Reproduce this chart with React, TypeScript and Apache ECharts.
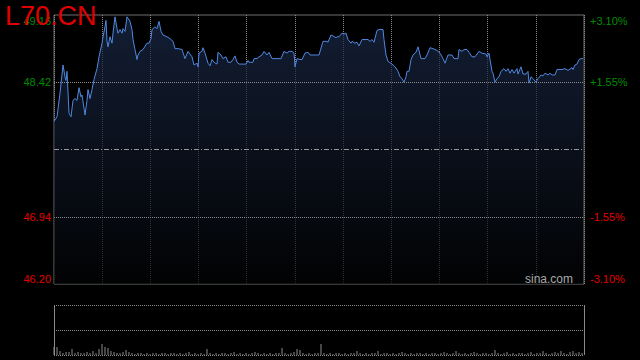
import React, { useEffect, useRef } from "react";
import * as echarts from "echarts";

const TITLE = "L70.CN";
const SOURCE = "sina.com";
const PREV_CLOSE = 47.68;
const PRICE_MIN = 46.2;
const PRICE_MAX = 49.16;
const PRICE_STEP = 0.74;
const PCT_MIN = -3.1;
const PCT_MAX = 3.1;
const PCT_STEP = 1.55;
const SESSION_LEN = 530;
const SESSION_DIVISIONS = 11;
const VOLUME_STEP = 3;
const VOLUME_MAX = 500;

// time offsets within the session
const times = [
  0, 3, 6, 9, 11, 12, 13, 15, 17, 19,
  21, 23, 25, 27, 28, 31, 33, 34, 36, 38,
  40, 43, 45, 48, 49, 51, 52, 53, 54, 56,
  58, 59, 61, 63, 64, 66, 68, 69, 71, 73,
  76, 78, 79, 81, 83, 84, 86, 89, 93, 95,
  97, 98, 101, 103, 105, 107, 109, 113, 116, 119,
  121, 124, 128, 131, 134, 138, 140, 143, 144, 145,
  148, 149, 151, 154, 156, 158, 160, 163, 164, 167,
  169, 172, 174, 177, 179, 181, 183, 185, 189, 192,
  194, 195, 199, 200, 203, 205, 208, 210, 213, 215,
  218, 223, 227, 230, 233, 235, 238, 240, 241, 243,
  246, 248, 251, 254, 256, 261, 265, 269, 273, 274,
  277, 279, 282, 283, 285, 288, 290, 292, 294, 297,
  298, 301, 303, 305, 308, 311, 314, 316, 318, 320,
  323, 325, 329, 330, 332, 334, 338, 341, 344, 346,
  348, 350, 352, 353, 355, 357, 359, 362, 364, 367,
  371, 373, 376, 379, 383, 386, 389, 391, 394, 398,
  400, 404, 405, 408, 410, 413, 415, 418, 421, 425,
  428, 432, 433, 435, 436, 438, 439, 441, 443, 445,
  447, 450, 452, 454, 456, 458, 460, 463, 464, 467,
  469, 472, 474, 475, 477, 479, 482, 484, 487, 489,
  491, 494, 496, 498, 501, 503, 508, 511, 514, 518,
  519, 521, 523, 525, 527, 529,
];

const prices = [
  47.99, 48.04, 48.3, 48.61, 48.48, 48.44, 48.54, 48.08, 48.04, 48.22,
  48.24, 48.22, 48.36, 48.26, 48.28, 48.06, 48.22, 48.34, 48.24, 48.34,
  48.45, 48.57, 48.7, 48.85, 48.92, 49.03, 49.1, 48.87, 48.81, 48.92,
  48.85, 48.96, 49.14, 49.01, 48.96, 49.0, 48.96, 49.01, 48.98, 49.14,
  49.09, 49.0, 48.89, 48.78, 48.67, 48.72, 48.76, 48.78, 48.85, 48.85,
  48.9, 49.0, 49.03, 49.01, 49.09, 48.98, 48.94, 48.92, 48.9, 48.87,
  48.79, 48.79, 48.78, 48.68, 48.76, 48.7, 48.61, 48.63, 48.59, 48.74,
  48.76, 48.8, 48.74, 48.63, 48.6, 48.67, 48.64, 48.62, 48.75, 48.72,
  48.68, 48.7, 48.64, 48.64, 48.67, 48.71, 48.64, 48.62, 48.62, 48.62,
  48.66, 48.64, 48.64, 48.68, 48.68, 48.7, 48.72, 48.76, 48.72, 48.75,
  48.68, 48.68, 48.68, 48.76, 48.74, 48.76, 48.76, 48.74, 48.59, 48.68,
  48.67, 48.67, 48.74, 48.75, 48.72, 48.72, 48.72, 48.87, 48.87, 48.86,
  48.94, 48.93, 48.91, 48.92, 48.92, 48.96, 48.95, 48.96, 48.89, 48.85,
  48.87, 48.85, 48.86, 48.82, 48.89, 48.89, 48.89, 48.87, 48.89, 48.86,
  48.99, 49.0, 49.0, 48.89, 48.72, 48.65, 48.62, 48.59, 48.54, 48.48,
  48.46, 48.42, 48.48, 48.54, 48.54, 48.67, 48.72, 48.75, 48.81, 48.68,
  48.68, 48.72, 48.8, 48.79, 48.77, 48.74, 48.68, 48.63, 48.72, 48.72,
  48.68, 48.68, 48.78, 48.76, 48.78, 48.78, 48.75, 48.7, 48.7, 48.76,
  48.74, 48.73, 48.7, 48.74, 48.67, 48.54, 48.52, 48.42, 48.46, 48.48,
  48.54, 48.57, 48.54, 48.57, 48.52, 48.56, 48.52, 48.57, 48.51, 48.59,
  48.51, 48.51, 48.54, 48.41, 48.48, 48.46, 48.42, 48.46, 48.5, 48.49,
  48.52, 48.5, 48.52, 48.5, 48.5, 48.56, 48.56, 48.57, 48.55, 48.58,
  48.56, 48.61, 48.62, 48.67, 48.68, 48.68,
];

const volumes = [
  80, 80, 40, 20, 30, 30, 60, 20, 30, 20,
  20, 30, 20, 40, 20, 60, 110, 80, 70, 40,
  30, 20, 20, 30, 50, 30, 20, 10, 20,
  20, 10, 20, 10, 20, 20, 10, 20, 20, 10, 20, 20, 10, 20, 10, 20, 30, 10, 20, 10, 20, 10,
  60,
  20, 10, 20, 10, 20, 20, 10, 20, 30, 10, 20, 10, 20, 10, 20, 30, 20, 10, 20, 10, 20, 10, 20, 20,
  70,
  20, 10, 20, 30,
  60, 50,
  20, 10, 20, 10, 20, 20,
  110,
  20, 10, 20, 10, 20, 20, 10, 20, 10, 20,
  20, 40, 20, 10, 20, 10, 20, 20, 40, 10,
  20, 20, 10, 20, 10, 20, 30, 20, 10, 20,
  10, 20, 20, 10, 20, 10, 20, 20, 10, 20,
  30, 20, 10, 20, 40, 20, 10, 20, 10, 20,
  30, 20, 10, 20, 20, 10, 20,
  50,
  20, 10, 20, 30, 10, 20, 10, 20, 20, 10,
  20, 30, 10, 20, 20, 40, 20, 10, 20, 30,
  20, 40, 20, 10, 30, 40, 20, 30, 20,
];

const GREEN = "#008c00";
const RED = "#e00000";
const FONT = '"Liberation Sans", Arial, Helvetica, sans-serif';
const GRID_LINE = "#8a8a8a";

const near = (a: number, b: number) => Math.abs(a - b) < 1e-6;

const richStyles = {
  gt: { color: GREEN, fontSize: 11, fontFamily: FONT, padding: [11, 0, 0, 0] },
  g: { color: GREEN, fontSize: 11, fontFamily: FONT },
  r: { color: RED, fontSize: 11, fontFamily: FONT },
  rb: { color: RED, fontSize: 11, fontFamily: FONT, padding: [0, 0, 11, 0] },
};

function priceLabel(raw: any) {
  const v = Number(raw);
  if (near(v, PREV_CLOSE)) return "";
  const key = v > PREV_CLOSE ? (near(v, PRICE_MAX) ? "gt" : "g") : near(v, PRICE_MIN) ? "rb" : "r";
  return `{${key}|${v.toFixed(2)}}`;
}

function pctLabel(raw: any) {
  const v = Number(raw);
  if (near(v, 0)) return "";
  const key = v > 0 ? (near(v, PCT_MAX) ? "gt" : "g") : near(v, PCT_MIN) ? "rb" : "r";
  const s = (v > 0 ? "+" : "") + v.toFixed(2) + "%";
  return `{${key}|${s}}`;
}

export default function App() {
  const ref = useRef<HTMLDivElement>(null);

  useEffect(() => {
    if (!ref.current) return;
    const chart = echarts.init(ref.current, null, { renderer: "svg" });
    const priceData = times.map((t, i) => [t, prices[i]]);
    const volData = volumes.map((v, i) => [i * VOLUME_STEP, v]);

    const hiddenAxisParts = {
      axisLine: { show: false },
      axisTick: { show: false },
      axisLabel: { show: false },
    };

    chart.setOption({
      animation: false,
      backgroundColor: "#000",
      textStyle: { fontFamily: FONT },
      grid: [
        {
          left: 54,
          top: 15,
          width: 530,
          height: 269,
          show: true,
          borderColor: "#6e6e6e",
          borderWidth: 1,
          backgroundColor: "transparent",
        },
        { left: 54, top: 305, width: 530, height: 50 },
      ],
      xAxis: [
        { gridIndex: 0, type: "value", min: 0, max: SESSION_LEN, show: false },
        {
          gridIndex: 0,
          type: "value",
          min: 0,
          max: SESSION_DIVISIONS,
          interval: 1,
          ...hiddenAxisParts,
          splitLine: { show: true, lineStyle: { color: GRID_LINE, width: 1, type: [1, 1] } },
        },
        { gridIndex: 1, type: "value", min: 0, max: SESSION_LEN, show: false },
        {
          gridIndex: 1,
          type: "value",
          min: 0,
          max: 1,
          interval: 1,
          ...hiddenAxisParts,
          splitLine: { show: true, lineStyle: { color: "#8a8a8a", width: 1, type: "solid" } },
        },
      ],
      yAxis: [
        {
          gridIndex: 0,
          type: "value",
          position: "left",
          min: PRICE_MIN,
          max: PRICE_MAX,
          interval: PRICE_STEP,
          axisLine: { show: false },
          axisTick: { show: false },
          splitLine: { show: false },
          axisLabel: {
            show: true,
            margin: 3,
            fontSize: 11,
            fontFamily: FONT,
            formatter: priceLabel,
            rich: richStyles,
          },
        },
        {
          gridIndex: 0,
          type: "value",
          position: "right",
          min: PCT_MIN,
          max: PCT_MAX,
          interval: PCT_STEP,
          axisLine: { show: false },
          axisTick: { show: false },
          splitLine: { show: false },
          axisLabel: {
            show: true,
            margin: 6,
            fontSize: 11,
            fontFamily: FONT,
            formatter: pctLabel,
            rich: richStyles,
          },
        },
        {
          gridIndex: 1,
          type: "value",
          min: 0,
          max: VOLUME_MAX,
          interval: VOLUME_MAX / 2,
          ...hiddenAxisParts,
          splitLine: { show: true, lineStyle: { color: "#8a8a8a", width: 1, type: [1, 1] } },
        },
      ],
      series: [
        {
          type: "line",
          xAxisIndex: 0,
          yAxisIndex: 0,
          data: priceData,
          showSymbol: false,
          symbol: "none",
          lineStyle: { color: "#4f88e0", width: 1 },
          areaStyle: {
            origin: "start",
            color: new echarts.graphic.LinearGradient(0, 0, 0, 1, [
              { offset: 0, color: "#1b2a49" },
              { offset: 1, color: "#020304" },
            ]),
          },
          markLine: {
            silent: true,
            symbol: ["none", "none"],
            label: { show: false },
            data: [
              { yAxis: PRICE_MIN + PRICE_STEP * 3, lineStyle: { color: GRID_LINE, width: 1, type: [1, 1] } },
              { yAxis: PREV_CLOSE, lineStyle: { color: "#9a9a9a", width: 1, type: [5, 2, 1, 2] } },
              { yAxis: PRICE_MIN + PRICE_STEP, lineStyle: { color: GRID_LINE, width: 1, type: [1, 1] } },
            ],
          },
        },
        {
          type: "bar",
          xAxisIndex: 2,
          yAxisIndex: 2,
          data: volData,
          barWidth: 1,
          itemStyle: { color: "#8c8c8c" },
        },
      ],
      graphic: [
        {
          type: "text",
          left: 5,
          top: 2,
          z: 100,
          style: { text: TITLE, fill: RED, font: `27px ${FONT}` },
        },
        {
          type: "text",
          right: 67,
          top: 273,
          z: 100,
          style: { text: SOURCE, fill: "#a8a8a8", font: `12px ${FONT}` },
        },
      ],
    });

    return () => chart.dispose();
  }, []);

  return (
    <div
      ref={ref}
      style={{ position: "fixed", left: 0, top: 0, width: 640, height: 360, background: "#000" }}
    />
  );
}
